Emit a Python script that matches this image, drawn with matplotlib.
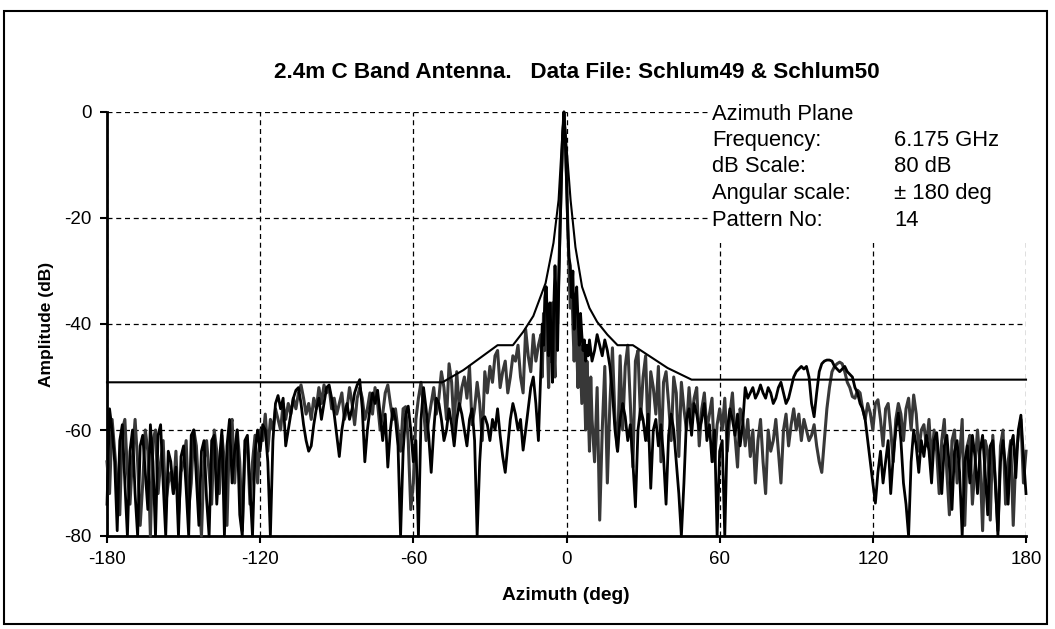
import matplotlib
matplotlib.use('Agg')
import matplotlib.pyplot as plt
import numpy as np
from matplotlib.patches import Rectangle

plt.rcParams['font.family'] = ['Liberation Sans', 'DejaVu Sans']
plt.rcParams['axes.unicode_minus'] = False

# Azimuth sampling (deg): 1 deg outside, 0.5 deg around the main beam
az_left = np.arange(-180, -10)
az_mid = np.arange(-10, 10.5, 0.5)
az_right = np.arange(11, 181)

# Trace 1 (black), amplitude in dB
black_left = [
    -74, -56, -60, -66, -79, -62, -59, -70, -80, -64,
    -60, -72, -80, -63, -61, -68, -75, -59, -66, -80,
    -61, -59, -70, -80, -64, -66, -72, -67, -80, -65,
    -63, -71, -80, -61, -60, -69, -78, -64, -62, -73,
    -80, -62, -61, -74, -66, -60, -80, -63, -58, -70,
    -64, -60, -76, -80, -62, -61, -71, -80, -64, -60,
    -64, -59, -60, -66, -80, -62, -55, -53.5, -56, -54,
    -63, -60, -57, -54, -52.5, -52, -55, -59, -62, -64,
    -63, -59, -56, -54, -58, -55, -52, -51.5, -54, -57,
    -61, -65, -60, -57, -55, -58, -56, -53, -51.5, -50.5,
    -56, -66, -60, -56, -53, -55, -52.5, -57, -62, -57,
    -67, -60, -56, -58, -63, -80, -64, -57, -55.5, -60,
    -66, -62, -80, -58, -52, -56, -61, -68, -60, -54,
    -55, -58, -62, -60, -56, -59, -63, -58, -55, -57,
    -60, -63, -58, -56, -62, -80, -66, -58, -57.5, -59,
    -62, -58, -60, -56, -61, -65, -68, -63, -58, -55,
    -57, -60, -58, -63.8, -60, -56, -52, -50, -55, -62,
]
black_mid = [
    -48, -40, -44, -35, -33, -38, -46, -36, -42, -51,
    -37, -29, -36, -45, -32, -22, -13, -5, 0, -5,
    -13, -22, -27.5, -29, -35, -30, -41, -36, -33, -39,
    -44, -38, -42, -45, -43, -47, -44, -46, -43, -45,
    -47,
]
black_right = [
    -45, -42, -44, -46, -43, -45, -48, -53, -60, -64,
    -58, -55, -57.5, -62, -59, -66, -74.5, -60, -56, -58,
    -62, -57, -71, -60, -58, -63, -59, -65, -74, -61,
    -57, -60, -66, -72, -80, -70, -58, -56, -61, -55,
    -57, -60, -58, -55, -62, -59, -66, -60, -80, -64,
    -62, -80, -60, -56, -58, -61, -57, -63, -59, -52,
    -54, -53, -52, -54, -53, -51.5, -53, -54, -52, -53,
    -55, -54, -52, -51, -53, -55, -54, -52, -50, -49,
    -48.5, -48, -48.5, -48, -50, -55, -57.5, -53, -49, -47.5,
    -47, -46.8, -46.8, -47, -48, -48.5, -49, -48.5, -48, -49,
    -49.5, -50, -52, -53, -55, -56, -58, -62, -66, -70,
    -73.8, -68, -64, -70, -66, -62, -72, -65, -60, -56.8,
    -62, -70, -74, -80, -66, -60, -63, -68, -62, -65,
    -61, -64, -70, -62, -60.5, -66, -72, -63, -61, -67,
    -75, -64, -62, -68, -80, -66, -63, -70, -61, -65,
    -72, -64, -61, -68, -76, -63, -62, -70, -80, -66,
    -62, -67, -74, -63, -61, -69, -60, -57.2, -65, -72,
]

# Trace 2 (grey)
grey_left = [
    -66, -72, -58, -64, -70, -76, -60, -58, -68, -74,
    -65, -58, -66, -78, -70, -60, -64, -80, -62, -60,
    -72, -66, -62, -74, -70, -68, -72, -64, -76, -68,
    -66, -62, -75, -70, -60, -63, -72, -80, -66, -62,
    -68, -74, -60, -64, -72, -61, -66, -78, -60, -58,
    -70, -60, -66, -79, -64, -62, -74, -66, -61, -70,
    -60, -62, -57, -64, -58, -60, -56, -58, -60, -55,
    -58, -55, -57, -54, -56, -53, -51.5, -54, -57, -55,
    -58, -54, -56, -52, -55, -51.5, -53, -52, -56, -54,
    -57, -55, -53, -58, -56, -52, -55, -59, -54, -52,
    -54, -58, -56, -53, -57, -52, -55, -60, -57, -53,
    -51.5, -55, -58, -56, -60, -64, -56, -55.6, -62, -75,
    -70, -58, -54, -51, -56, -62, -58, -55, -52, -57,
    -54, -49, -52, -58, -47.5, -51, -60, -49, -56, -52,
    -50, -54, -48, -59, -56, -51, -55, -62, -49, -53,
    -48, -51, -46, -45, -52, -49, -47, -53, -50, -46,
    -47, -44, -50, -53, -41, -46, -49, -42, -47, -44,
]
grey_mid = [
    -42, -50, -38, -45, -33, -43, -52, -40, -47, -36,
    -44, -50, -33, -40, -30, -21, -12, -4.5, 0, -4.5,
    -12, -21, -30, -37, -31, -40, -47, -38, -44, -52,
    -41, -48, -55, -44, -51, -60, -47, -56, -64, -50,
    -58,
]
grey_right = [
    -66, -52, -77, -60, -48, -70, -55, -44.5, -58, -64,
    -46, -60, -48, -44, -55, -67, -47, -45, -58, -50,
    -46, -62, -49, -52, -57, -48, -66, -51, -49, -55,
    -62, -50, -53, -65, -51, -56, -60, -52, -58, -54,
    -52, -63, -56, -53, -60, -57, -54, -66, -59, -56,
    -60, -54, -64, -57, -53, -61, -67, -56, -58, -63,
    -58, -65, -60, -70, -62, -58, -66, -72, -60, -64,
    -62, -58, -64, -70, -60, -57, -63, -59, -56, -60,
    -57, -62, -58, -60, -62, -61, -59, -63, -66, -68,
    -62, -56, -52, -49, -48, -47.5, -47.2, -47.5, -49, -51,
    -52, -53.7, -54, -52.5, -53, -56, -58, -55, -56.8, -60,
    -55, -54.3, -58, -63, -56, -55, -60, -66, -58, -55,
    -57, -62, -56, -54, -60, -53.4, -57, -64, -60, -59,
    -63, -58, -66, -60, -64, -72, -62, -58, -68, -76,
    -62, -60, -70, -65, -58, -78, -63, -61, -74, -67,
    -60, -66, -79, -62, -64, -77, -61, -70, -79, -63,
    -60, -74, -66, -62, -78, -65, -61, -58, -70, -64,
]

# Envelope (mask) line
mask_az = [-180, -48.6, -40.4, -27, -21, -17, -13, -8.2, -5.1, -3.1, -1.6, -1,
           -0.4, 1.6, 3.5, 6.1, 9, 12, 16, 20, 26, 39.6, 49, 180]
mask_db = [-51, -51, -48.7, -44, -44, -41.5, -38.5, -32.3, -24.7, -16.6, -4, 0,
           -4, -16.6, -25.5, -33, -37, -39.6, -42, -44, -44, -48.3, -50.5, -50.5]

info_labels = ['Azimuth Plane', 'Frequency:', 'dB Scale:', 'Angular scale:', 'Pattern No:']
info_values = ['', '6.175 GHz', '80 dB', '\u00b1 180 deg', '14']

azimuth = np.concatenate([az_left, az_mid, az_right])
amp_black = np.concatenate([black_left, black_mid, black_right])
amp_grey = np.concatenate([grey_left, grey_mid, grey_right])

W, H = 1055, 629
fig = plt.figure(figsize=(W / 100, H / 100), dpi=100)
ax = fig.add_axes([107 / W, 1 - 536 / H, (1026 - 107) / W, (536 - 112) / H])

ax.plot(azimuth, amp_grey, color='#383838', lw=2.2, zorder=3, clip_on=False)
ax.plot(azimuth, amp_black, color='black', lw=2.0, zorder=4, clip_on=False)
ax.plot(mask_az, mask_db, color='black', lw=1.5, zorder=5, clip_on=False)

ax.set_xlim(-180, 180)
ax.set_ylim(-80, 0)
ax.set_xticks(np.arange(-180, 181, 60))
ax.set_yticks(np.arange(-80, 1, 20))
ax.set_axisbelow(True)
ax.grid(True, color='black', lw=0.9, linestyle=(0, (4, 3)))
for side in ['top', 'right']:
    ax.spines[side].set_visible(False)
for side in ['left', 'bottom']:
    ax.spines[side].set_linewidth(2)
ax.tick_params(direction='out', length=5, width=1.5, labelsize=13.5, pad=6)

# white area behind the info text hides the grid there
ax.add_patch(Rectangle((56, -24.7), 130, 30, facecolor='white', edgecolor='none',
                       zorder=1, clip_on=False))

row_y = [112, 138.5, 165, 191.5, 218]
for lab, val, y in zip(info_labels, info_values, row_y):
    fig.text(712 / W, 1 - (y + 7.5) / H, lab, fontsize=15.8, va='baseline', ha='left')
    fig.text(894 / W, 1 - (y + 7.5) / H, val, fontsize=15.8, va='baseline', ha='left')

fig.text(577 / W, 1 - 72 / H, '2.4m C Band Antenna.   Data File: Schlum49 & Schlum50',
         fontsize=16.2, fontweight='bold', ha='center', va='center')
fig.text(566 / W, 1 - 595 / H, 'Azimuth (deg)', fontsize=13.8, fontweight='bold',
         ha='center', va='center')
fig.text(47 / W, 1 - 324 / H, 'Amplitude (dB)', fontsize=12.5, fontweight='bold',
         ha='center', va='center', rotation=90)

# outer frame
fig.patches.append(Rectangle((4 / W, 5 / H), 1043 / W, 613 / H, transform=fig.transFigure,
                             fill=False, edgecolor='black', lw=1.5))

fig.savefig('out.png', dpi=100)
